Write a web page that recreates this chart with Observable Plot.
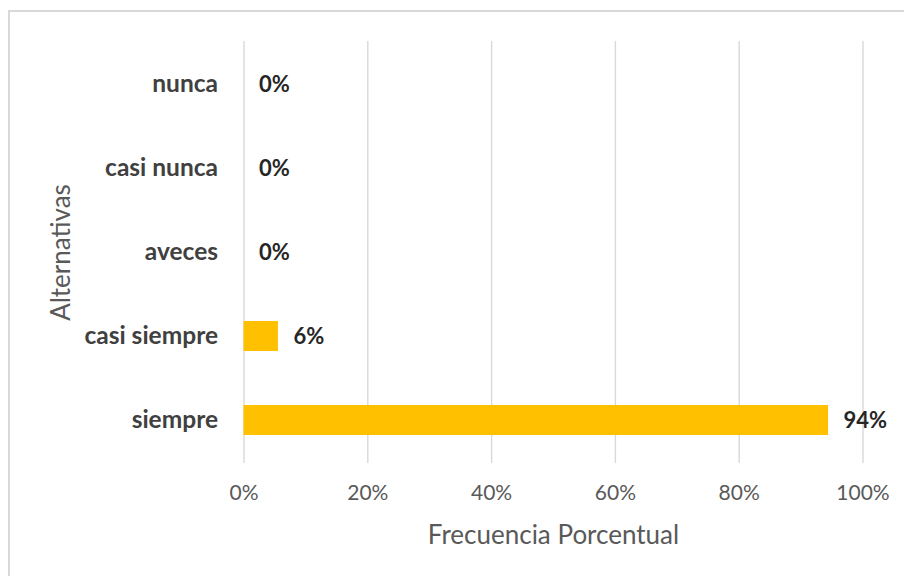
<!DOCTYPE html>
<html>
<head>
<meta charset="utf-8">
<script src="https://cdn.jsdelivr.net/npm/d3@7"></script>
<script src="https://cdn.jsdelivr.net/npm/@observablehq/plot@0.6"></script>
<style>
  html, body { margin: 0; padding: 0; background: #fff; }
  #wrap { position: relative; width: 904px; height: 576px; overflow: hidden; }
  #border { position: absolute; left: 8px; top: 10px; width: 904px; height: 600px; border: 2px solid #d9d9d9; box-sizing: border-box; pointer-events: none; }
  #chart { position: absolute; left: 0; top: 0; }
</style>
</head>
<body>
<div id="wrap"><div id="chart"></div><div id="border"></div></div>
<script>
const categories = ["nunca", "casi nunca", "aveces", "casi siempre", "siempre"];
const values = [0, 0, 0, 5.56, 94.44];
const xTicks = [0, 20, 40, 60, 80, 100];
const xTitle = "Frecuencia Porcentual";
const yTitle = "Alternativas";

const data = categories.map((c, i) => ({cat: c, v: values[i]}));
const font = "Lato, sans-serif";

const chart = Plot.plot({
  width: 904,
  height: 576,
  marginLeft: 243.5,
  marginRight: 41.5,
  marginTop: 41,
  marginBottom: 113,
  style: {fontFamily: font, background: "transparent"},
  x: {domain: [0, 100], ticks: xTicks, grid: false, label: null, axis: null},
  y: {domain: categories, paddingInner: 0.645, paddingOuter: 0.3225, align: 0.5, label: null, axis: null},
  marks: [
    Plot.gridX(xTicks, {stroke: "#d9d9d9", strokeOpacity: 1, strokeWidth: 1.4}),
    Plot.barX(data, {x: "v", y: "cat", fill: "#FFC000"}),
    Plot.text(data, {x: "v", y: "cat", text: d => Math.round(d.v) + "%", textAnchor: "start", dx: 15, fontWeight: "bold", fontSize: 22, fill: "#262626"}),
    Plot.axisY({tickSize: 0, tickPadding: 26, fontSize: 24.5, fontWeight: "bold", fill: "#404040", label: null}),
    Plot.axisX(xTicks, {tickSize: 0, tickPadding: 22, fontSize: 21, fill: "#595959", tickFormat: d => d + "%", label: null}),
    Plot.text([xTitle], {frameAnchor: "bottom", lineAnchor: "middle", dy: 72, fontSize: 26, fill: "#595959"}),
    Plot.text([yTitle], {frameAnchor: "left", textAnchor: "middle", lineAnchor: "middle", dx: -182, rotate: -90, fontSize: 26, fill: "#595959"})
  ]
});
document.getElementById("chart").append(chart);
</script>
</body>
</html>
